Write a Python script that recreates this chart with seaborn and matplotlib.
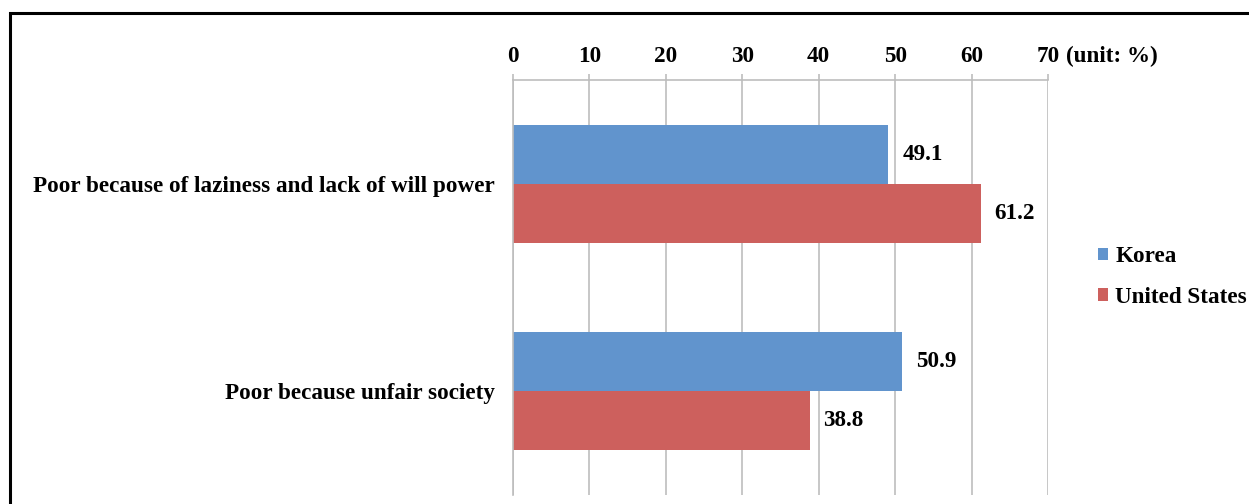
import matplotlib
matplotlib.use("Agg")
import matplotlib.pyplot as plt
import seaborn as sns
import pandas as pd
from matplotlib.patches import Rectangle, Patch

categories = ["Poor because of laziness and lack of will power", "Poor because unfair society"]
countries = ["Korea", "United States"]
korea = [49.1, 50.9]
usa = [61.2, 38.8]
xticks = [0, 10, 20, 30, 40, 50, 60, 70]

colors = ["#6194CD", "#CD605D"]

rows = []
for c, k, u in zip(categories, korea, usa):
    rows.append((c, "Korea", k))
    rows.append((c, "United States", u))
df = pd.DataFrame(rows, columns=["category", "country", "value"])

sns.set_style("white")
plt.rcParams["font.family"] = ["Liberation Serif", "DejaVu Serif"]
plt.rcParams["font.weight"] = "bold"
plt.rcParams["text.color"] = "black"
plt.rcParams["xtick.color"] = "black"
plt.rcParams["ytick.color"] = "black"

FS = 16.7
W, H = 1249, 504
fig = plt.figure(figsize=(W / 100, H / 100), dpi=100)
ax = fig.add_axes([513 / W, 1 - 495 / H, (1048 - 513) / W, (495 - 80) / H])

sns.barplot(data=df, y="category", x="value", hue="country", order=categories,
            hue_order=countries, palette=colors, orient="h", width=0.57,
            saturation=1, ax=ax, legend=False, linewidth=0)

ax.set_xlim(0, 70)
ax.set_ylim(1.5, -0.5)
ax.set_xlabel("")
ax.set_ylabel("")

grid_c = "#BDBDBD"
ax.xaxis.tick_top()
ax.set_xticks(xticks)
ax.set_xticklabels([str(t) for t in xticks], fontsize=FS, fontweight="bold", color="black")
ax.tick_params(axis="x", direction="out", length=4.3, width=1.2, color=grid_c, pad=5)
ax.grid(axis="x", color=grid_c, linewidth=1.2)
ax.set_axisbelow(True)

ax.set_yticks([0, 1])
ax.set_yticklabels(categories, fontsize=FS, fontweight="bold", color="black")
ax.tick_params(axis="y", length=0, pad=13)
ax.set_yticks([-0.5, 0.5, 1.5], minor=True)
ax.tick_params(axis="y", which="minor", direction="out", length=4.3, width=1.2, color=grid_c)

for s in ["right", "bottom"]:
    ax.spines[s].set_visible(False)
for s in ["top", "left"]:
    ax.spines[s].set_color(grid_c)
    ax.spines[s].set_linewidth(1.2)

for cont in ax.containers:
    ax.bar_label(cont, fmt="%.1f", padding=10, fontsize=FS, fontweight="bold", color="black")

ax.annotate("(unit: %)", xy=(70, 1), xycoords=("data", "axes fraction"),
            xytext=(13, 9.3), textcoords="offset points", ha="left", va="bottom",
            fontsize=FS, fontweight="bold", color="black")

handles = [Patch(facecolor=c, edgecolor="none") for c in colors]
fig.legend(handles, countries, loc="center left", bbox_to_anchor=(1077 / W, 1 - 277 / H),
           frameon=False, prop={"weight": "bold", "size": FS},
           handlelength=0.45, handleheight=0.45, handletextpad=0.3, labelspacing=0.85)

fig.patches.append(Rectangle((10 / W, -0.1), 1.2, 1 - 13 / H + 0.1, transform=fig.transFigure,
                             fill=False, edgecolor="black", linewidth=2.2, zorder=10))

fig.savefig("out.png", dpi=100)
